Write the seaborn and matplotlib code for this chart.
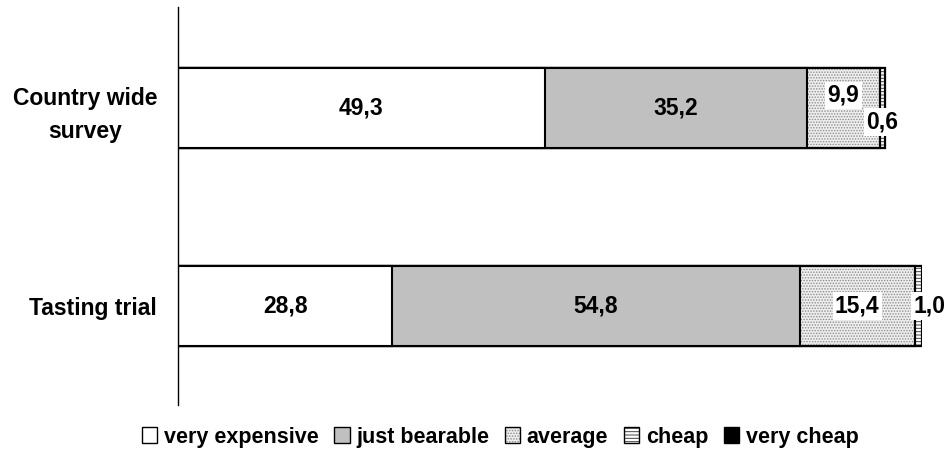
import numpy as np
import pandas as pd
import matplotlib
matplotlib.use("Agg")
import matplotlib.pyplot as plt
import matplotlib.patches as mpatches
from matplotlib.legend_handler import HandlerTuple
import seaborn as sns

# Price perception shares (%) for two samples
groups = ["Country wide\nsurvey", "Tasting trial"]
categories = ["very expensive", "just bearable", "average", "cheap", "very cheap"]
very_expensive = [49.3, 28.8]
just_bearable = [35.2, 54.8]
average = [9.9, 15.4]
cheap = [0.6, 1.0]
very_cheap = [0.0, 0.0]
value_labels = [["49,3", "35,2", "9,9", "0,6", ""],
                ["28,8", "54,8", "15,4", "1,0", ""]]

sns.set_style("white")
plt.rcParams["font.family"] = ["Liberation Sans", "DejaVu Sans"]
plt.rcParams["text.color"] = "black"
plt.rcParams["ytick.color"] = "black"
plt.rcParams["ytick.labelcolor"] = "black"
plt.rcParams["hatch.linewidth"] = 0.7

# fill / hatch / hatch colour per category
styles = {
    "very expensive": dict(face="white", hatch=None, hcol=None),
    "just bearable": dict(face="#c0c0c0", hatch=None, hcol=None),
    "average": dict(face="#eeeeee", hatch="......", hcol="#8c8c8c"),
    "cheap": dict(face="white", hatch="-----", hcol="#404040"),
    "very cheap": dict(face="black", hatch=None, hcol=None),
}

series = np.array([very_expensive, just_bearable, average, cheap, very_cheap])
cum = series.cumsum(axis=0)

fig = plt.figure(figsize=(9.44, 4.59), dpi=100)
ax = fig.add_axes([178 / 944, 1 - 405 / 459, 744 / 944, 398 / 459])

EDGE_LW = 1.5
BAR_W = 0.404

# stacked bars: draw cumulative totals from the right-most category back to the first
for k in range(len(categories) - 1, -1, -1):
    name = categories[k]
    st = styles[name]
    df = pd.DataFrame({"group": groups, "total": cum[k]})
    n_before = len(ax.patches)
    sns.barplot(data=df, x="total", y="group", orient="h", color=st["face"],
                saturation=1, edgecolor="black", linewidth=EDGE_LW,
                width=BAR_W, ax=ax)
    new = ax.patches[n_before:]
    for p in new:
        p.set_facecolor(st["face"])
        if st["hatch"]:
            ov = mpatches.Rectangle(p.get_xy(), p.get_width(), p.get_height(),
                                    fill=False, edgecolor=st["hcol"], linewidth=0,
                                    hatch=st["hatch"])
            ax.add_patch(ov)
            # re-draw outline above the hatch
            ol = mpatches.Rectangle(p.get_xy(), p.get_width(), p.get_height(),
                                    fill=False, edgecolor="black", linewidth=EDGE_LW)
            ax.add_patch(ol)

# value labels, centred in each segment
label_offsets = {(0, 2): (0, 9), (0, 3): (0, -10), (1, 3): (8, 0)}
for gi in range(len(groups)):
    for k in range(len(categories)):
        txt = value_labels[gi][k]
        if not txt:
            continue
        center = cum[k][gi] - series[k][gi] / 2
        dx, dy = label_offsets.get((gi, k), (0, 0))
        has_bg = k >= 2
        ax.annotate(txt, xy=(center, gi), xytext=(dx, dy), textcoords="offset points",
                    ha="center", va="center", fontsize=16.5, fontweight="bold",
                    color="black",
                    bbox=dict(boxstyle="square,pad=0.1", fc="white", ec="none") if has_bg else None,
                    zorder=5)

ax.set_xlim(0, 100)
ax.set_ylim(1.5, -0.51)
ax.set_xlabel("")
ax.set_ylabel("")
ax.set_xticks([])
for s in ["top", "right", "bottom"]:
    ax.spines[s].set_visible(False)
ax.spines["left"].set_color("black")
ax.spines["left"].set_linewidth(1.0)
ax.tick_params(axis="y", length=0, pad=15, labelcolor="black")
for t in ax.get_yticklabels():
    t.set_fontsize(16.5)
    t.set_fontweight("bold")
    t.set_multialignment("center")
    t.set_linespacing(1.55)

# legend
handles = []
for name in categories:
    st = styles[name]
    if st["hatch"]:
        h = (mpatches.Patch(facecolor=st["face"], edgecolor=st["hcol"], linewidth=0,
                            hatch=st["hatch"]),
             mpatches.Patch(facecolor="none", edgecolor="black", linewidth=1.0))
    else:
        h = (mpatches.Patch(facecolor=st["face"], edgecolor="black", linewidth=1.0),)
    handles.append(h)

fig.legend(handles, categories, loc="center", bbox_to_anchor=(0.53, 1 - 437 / 459),
           ncol=5, frameon=False, handler_map={tuple: HandlerTuple(ndivide=1, pad=0)},
           prop=dict(weight="bold", size=15.5), handlelength=0.7, handleheight=0.7,
           handletextpad=0.3, columnspacing=0.75, borderaxespad=0)

fig.savefig("out.png", dpi=100)
